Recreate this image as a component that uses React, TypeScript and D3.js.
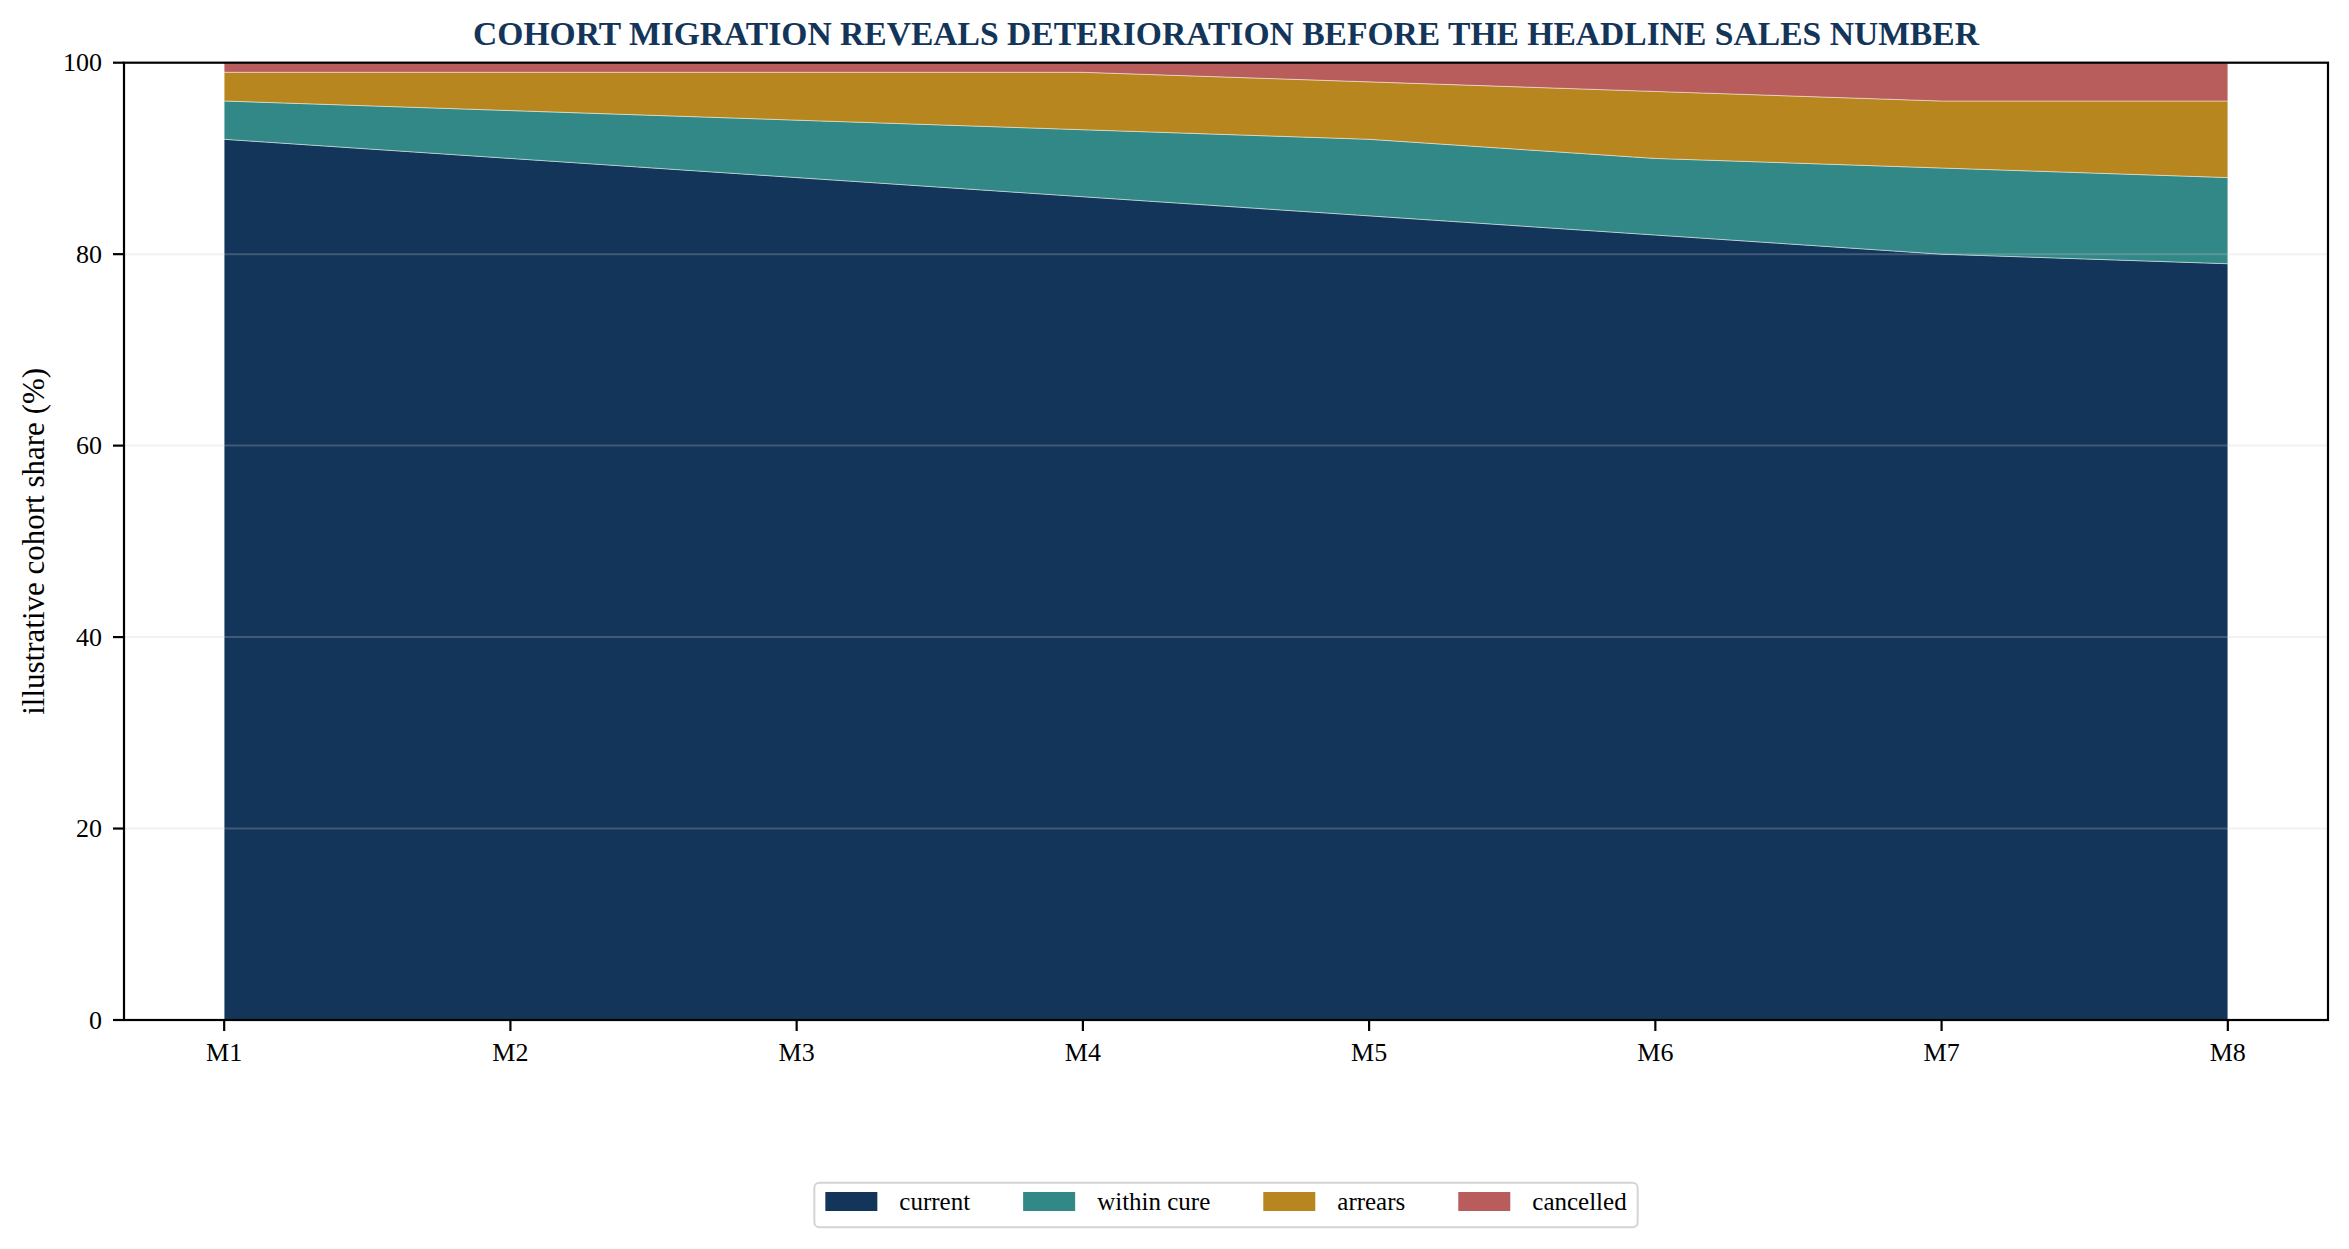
import React from 'react';
import * as d3 from 'd3';

const months = ['M1', 'M2', 'M3', 'M4', 'M5', 'M6', 'M7', 'M8'];
const current = [92, 90, 88, 86, 84, 82, 80, 79];
const withinCure = [4, 5, 6, 7, 8, 8, 9, 9];
const arrears = [3, 4, 5, 6, 6, 7, 7, 8];
const cancelled = [1, 1, 1, 1, 2, 3, 4, 4];
const seriesNames = ['current', 'within cure', 'arrears', 'cancelled'];
const seriesColors = ['#13355a', '#318886', '#b8861f', '#b85c5c'];
const yTicks = [0, 20, 40, 60, 80, 100];

const titleText = 'COHORT MIGRATION REVEALS DETERIORATION BEFORE THE HEADLINE SALES NUMBER';
const yLabelText = 'illustrative cohort share (%)';

const W = 2349;
const H = 1249;
const FONT = "'Liberation Serif', 'Times New Roman', Times, serif";

const plot = { left: 124, right: 2328, top: 62.7, bottom: 1020 };

function measure(text: string, size: number): number {
  try {
    const c = document.createElement('canvas');
    const ctx = c.getContext('2d');
    if (ctx) {
      ctx.font = `${size}px ${FONT}`;
      return ctx.measureText(text).width;
    }
  } catch (e) {}
  return text.length * size * 0.45;
}

export default function App() {
  const seriesValues = [current, withinCure, arrears, cancelled];
  const rows = months.map((m, i) => {
    const r: Record<string, any> = { month: m };
    seriesNames.forEach((s, k) => (r[s] = seriesValues[k][i]));
    return r;
  });
  const stacked = d3.stack<any>().keys(seriesNames)(rows);

  // matplotlib-like 5% margins on each side of the data span
  const x = d3
    .scalePoint<string>()
    .domain(months)
    .range([plot.left, plot.right])
    .padding(0.05 * (months.length - 1));
  const xs = (m: string) => x(m) as number;

  const y = d3.scaleLinear().domain([0, 100]).range([plot.bottom, plot.top]);

  const area = d3
    .area<any>()
    .x((d) => xs(d.data.month))
    .y0((d) => y(d[0]))
    .y1((d) => y(d[1]))
    .curve(d3.curveLinear);

  // legend layout
  const fs = 25;
  const sw = 52;
  const sh = 19;
  const handlePad = 22;
  const colSpace = 53;
  const boxPad = 11;
  const widths = seriesNames.map((s) => measure(s, fs));
  const total =
    boxPad * 2 +
    widths.reduce((a, w) => a + sw + handlePad + w, 0) +
    colSpace * (seriesNames.length - 1);
  const cx = (plot.left + plot.right) / 2;
  const legLeft = cx - total / 2;
  const legTop = 1182.7;
  const legH = 44.5;
  let cursor = legLeft + boxPad;
  const legendItems = seriesNames.map((s, i) => {
    const item = { name: s, color: seriesColors[i], sx: cursor, tx: cursor + sw + handlePad };
    cursor += sw + handlePad + widths[i] + colSpace;
    return item;
  });

  return (
    <svg
      width={W}
      height={H}
      viewBox={`0 0 ${W} ${H}`}
      style={{ position: 'absolute', left: 0, top: 0, background: '#ffffff' }}
      fontFamily={FONT}
    >
      <rect x={0} y={0} width={W} height={H} fill="#ffffff" />
      {/* areas */}
      <g>
        {stacked.map((s, i) => (
          <path
            key={s.key}
            d={area(s as any) || ''}
            fill={seriesColors[i]}
            stroke="#ffffff"
            strokeOpacity={0.45}
            strokeWidth={1}
          />
        ))}
      </g>
      {/* grid */}
      <g>
        {yTicks.map((t) => (
          <line
            key={t}
            x1={plot.left}
            x2={plot.right}
            y1={y(t)}
            y2={y(t)}
            stroke="#cccccc"
            strokeOpacity={0.25}
            strokeWidth={2}
          />
        ))}
      </g>
      {/* spines */}
      <rect
        x={plot.left}
        y={plot.top}
        width={plot.right - plot.left}
        height={plot.bottom - plot.top}
        fill="none"
        stroke="#000000"
        strokeWidth={2.2}
      />
      {/* y ticks */}
      <g>
        {yTicks.map((t) => (
          <g key={t}>
            <line x1={plot.left - 11} x2={plot.left} y1={y(t)} y2={y(t)} stroke="#000" strokeWidth={2.2} />
            <text
              x={plot.left - 22}
              y={y(t)}
              textAnchor="end"
              dominantBaseline="central"
              fontSize={26}
              fill="#000"
            >
              {t}
            </text>
          </g>
        ))}
      </g>
      {/* x ticks */}
      <g>
        {months.map((m) => (
          <g key={m}>
            <line x1={xs(m)} x2={xs(m)} y1={plot.bottom} y2={plot.bottom + 11} stroke="#000" strokeWidth={2.2} />
            <text x={xs(m)} y={1061} textAnchor="middle" fontSize={26} fill="#000">
              {m}
            </text>
          </g>
        ))}
      </g>
      {/* y label */}
      <text
        transform={`translate(33, ${(plot.top + plot.bottom) / 2}) rotate(-90)`}
        textAnchor="middle"
        dominantBaseline="central"
        fontSize={31}
        fill="#000"
      >
        {yLabelText}
      </text>
      {/* title */}
      <text
        x={cx}
        y={45}
        textAnchor="middle"
        fontSize={33.6}
        fontWeight="bold"
        fill="#13355a"
      >
        {titleText}
      </text>
      {/* legend */}
      <g>
        <rect
          x={legLeft}
          y={legTop}
          width={total}
          height={legH}
          rx={5}
          ry={5}
          fill="#ffffff"
          stroke="#d4d4d4"
          strokeWidth={2}
        />
        {legendItems.map((it) => (
          <g key={it.name}>
            <rect x={it.sx} y={1192} width={sw} height={sh} fill={it.color} />
            <text x={it.tx} y={1210} fontSize={fs} fill="#000">
              {it.name}
            </text>
          </g>
        ))}
      </g>
    </svg>
  );
}
